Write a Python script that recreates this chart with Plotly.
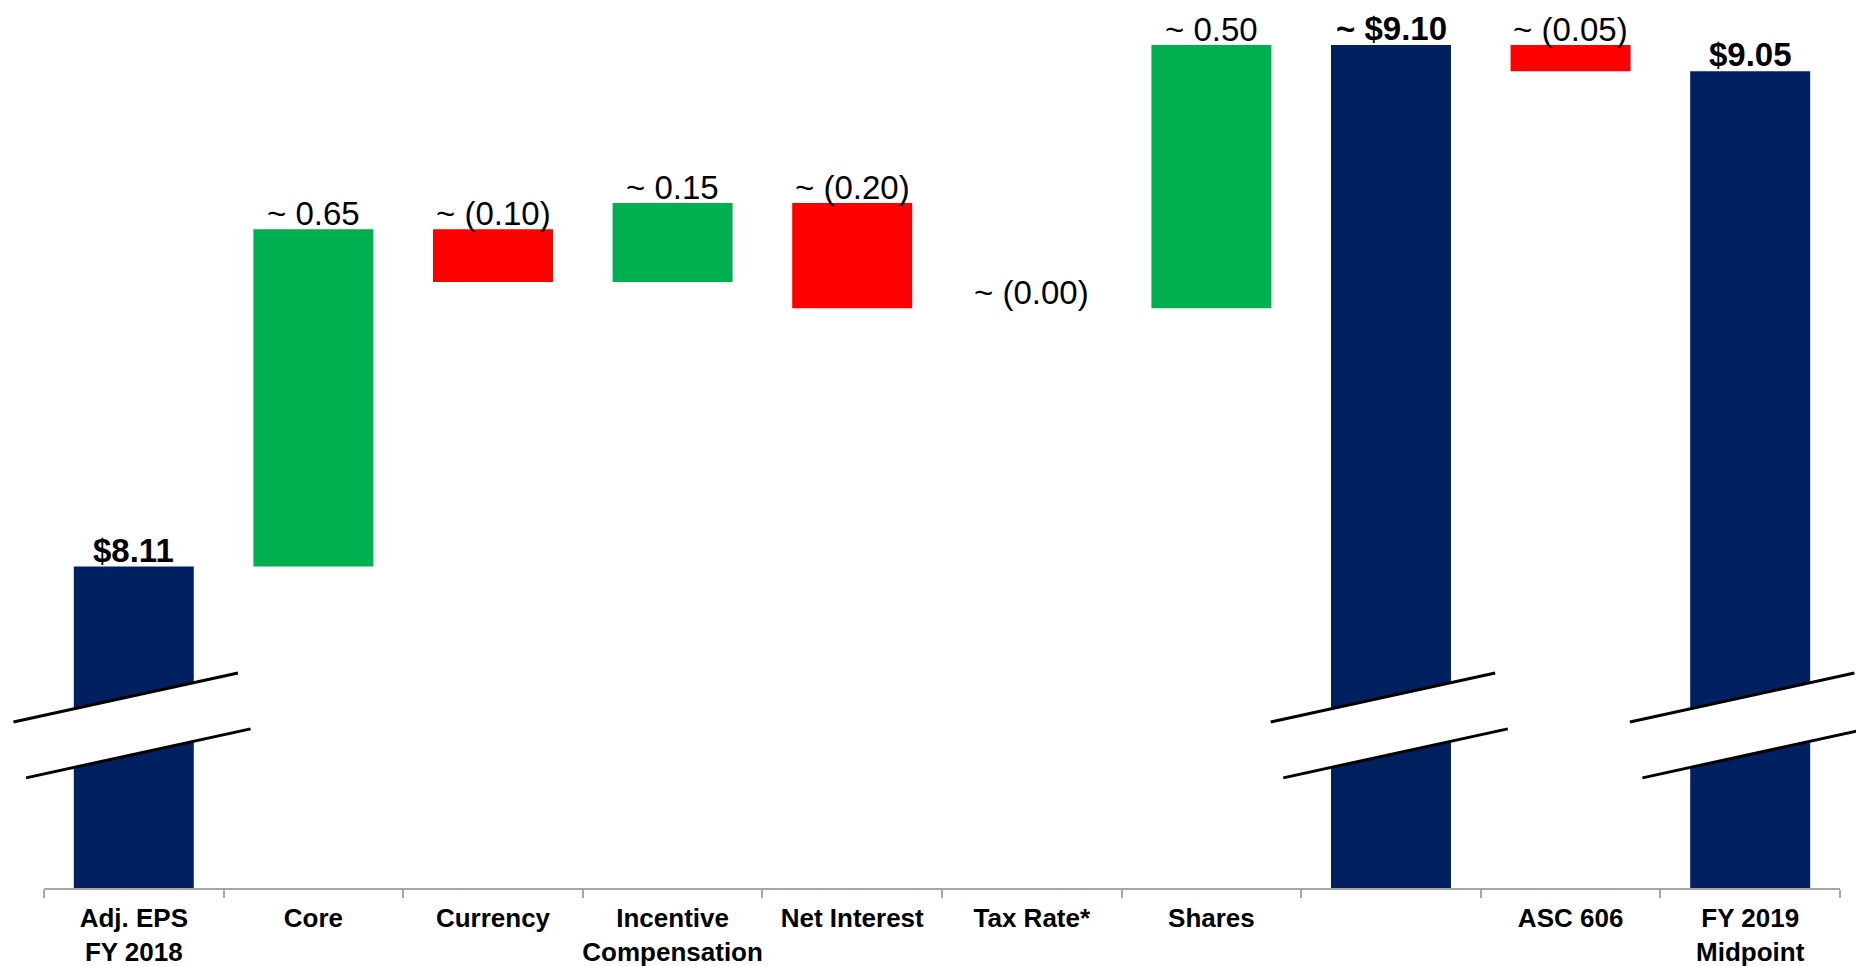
import plotly.graph_objects as go

# ---- data ----
categories = ["Adj. EPS<br>FY 2018", "Core", "Currency", "Incentive<br>Compensation",
              "Net Interest", "Tax Rate*", "Shares", " ", "ASC 606",
              "FY 2019<br>Midpoint"]
tick_labels = ["Adj. EPS<br>FY 2018", "Core", "Currency", "Incentive<br>Compensation",
               "Net Interest", "Tax Rate*", "Shares", "", "ASC 606",
               "FY 2019<br>Midpoint"]
measures = ["absolute", "relative", "relative", "relative", "relative", "relative",
            "relative", "absolute", "relative", "absolute"]
values = [8.11, 0.64, -0.10, 0.15, -0.20, 0.00, 0.50, 9.10, -0.05, 9.05]
value_labels = ["$8.11", "~ 0.65", "~ (0.10)", "~ 0.15", "~ (0.20)", "~ (0.00)",
                "~ 0.50", "~ $9.10", "~ (0.05)", "$9.05"]
bold_labels = [True, False, False, False, False, False, False, True, False, True]
broken_bars = [0, 7, 9]
y_min, y_max = 7.5, 9.17
# ----------------

n = len(categories)
NAVY, GREEN, RED = "#002060", "#00B050", "#FF0000"
FONT = "Liberation Sans, Arial, sans-serif"

fig = go.Figure(go.Waterfall(
    x=categories, y=values, measure=measures,
    increasing=dict(marker=dict(color=GREEN)),
    decreasing=dict(marker=dict(color=RED)),
    totals=dict(marker=dict(color=NAVY)),
    connector=dict(visible=False),
    width=0.668,
    hoverinfo="skip",
))

# label positions: top of each bar
level = 0.0
annotations = []
for i, (m, v) in enumerate(zip(measures, values)):
    if m == "absolute":
        level = v
        top = v
    else:
        start = level
        level = level + v
        top = max(start, level)
    annotations.append(dict(
        x=categories[i], y=top, xref="x", yref="y",
        text=("<b>%s</b>" % value_labels[i]) if bold_labels[i] else value_labels[i],
        showarrow=False, yanchor="bottom", yshift=-3 if bold_labels[i] else -4,
        borderpad=0,
        font=dict(family=FONT, size=33, color="black"),
    ))

# axis-break marks (white band with two slanted black lines)
def px(i, dx):
    return (i + 0.5 + dx) / n

def py(v):
    return (v - y_min) / (y_max - y_min)

shapes = []
for i in broken_bars:
    ux0, ux1 = px(i, -0.67), px(i, 0.58)
    lx0, lx1 = px(i, -0.60), px(i, 0.65)
    uy0, uy1 = py(7.815), py(7.908)
    ly0, ly1 = py(7.709), py(7.802)
    shapes.append(dict(type="path", xref="paper", yref="paper",
                       path=f"M{ux0},{uy0} L{ux1},{uy1} L{lx1},{ly1} L{lx0},{ly0} Z",
                       fillcolor="white", line=dict(width=0), layer="above"))
    shapes.append(dict(type="line", xref="paper", yref="paper",
                       x0=ux0, y0=uy0, x1=ux1, y1=uy1,
                       line=dict(color="black", width=3), layer="above"))
    shapes.append(dict(type="line", xref="paper", yref="paper",
                       x0=lx0, y0=ly0, x1=lx1, y1=ly1,
                       line=dict(color="black", width=3), layer="above"))

# the page body adds an 8px offset; size the figure to fill the rest of the window
fig.update_layout(
    width=1856, height=958,
    margin=dict(l=36, r=24, t=0, b=78),
    plot_bgcolor="white", paper_bgcolor="white",
    showlegend=False,
    annotations=annotations,
    shapes=shapes,
    font=dict(family=FONT, color="black"),
)
fig.update_xaxes(
    type="category", tickmode="array", tickvals=categories,
    ticktext=["<b>%s</b>" % t if t else "" for t in tick_labels],
    tickangle=0, automargin=False, ticklabelstandoff=6,
    tickson="boundaries", ticks="outside", ticklen=8, tickwidth=2, tickcolor="#A6A6A6",
    showline=True, linecolor="#A6A6A6", linewidth=2, showgrid=False, zeroline=False,
    tickfont=dict(family=FONT, size=26, color="black"),
    range=[-0.5, n - 0.5],
)
fig.update_yaxes(visible=False, range=[y_min, y_max], showgrid=False, automargin=False)

fig.write_html("out.html")
